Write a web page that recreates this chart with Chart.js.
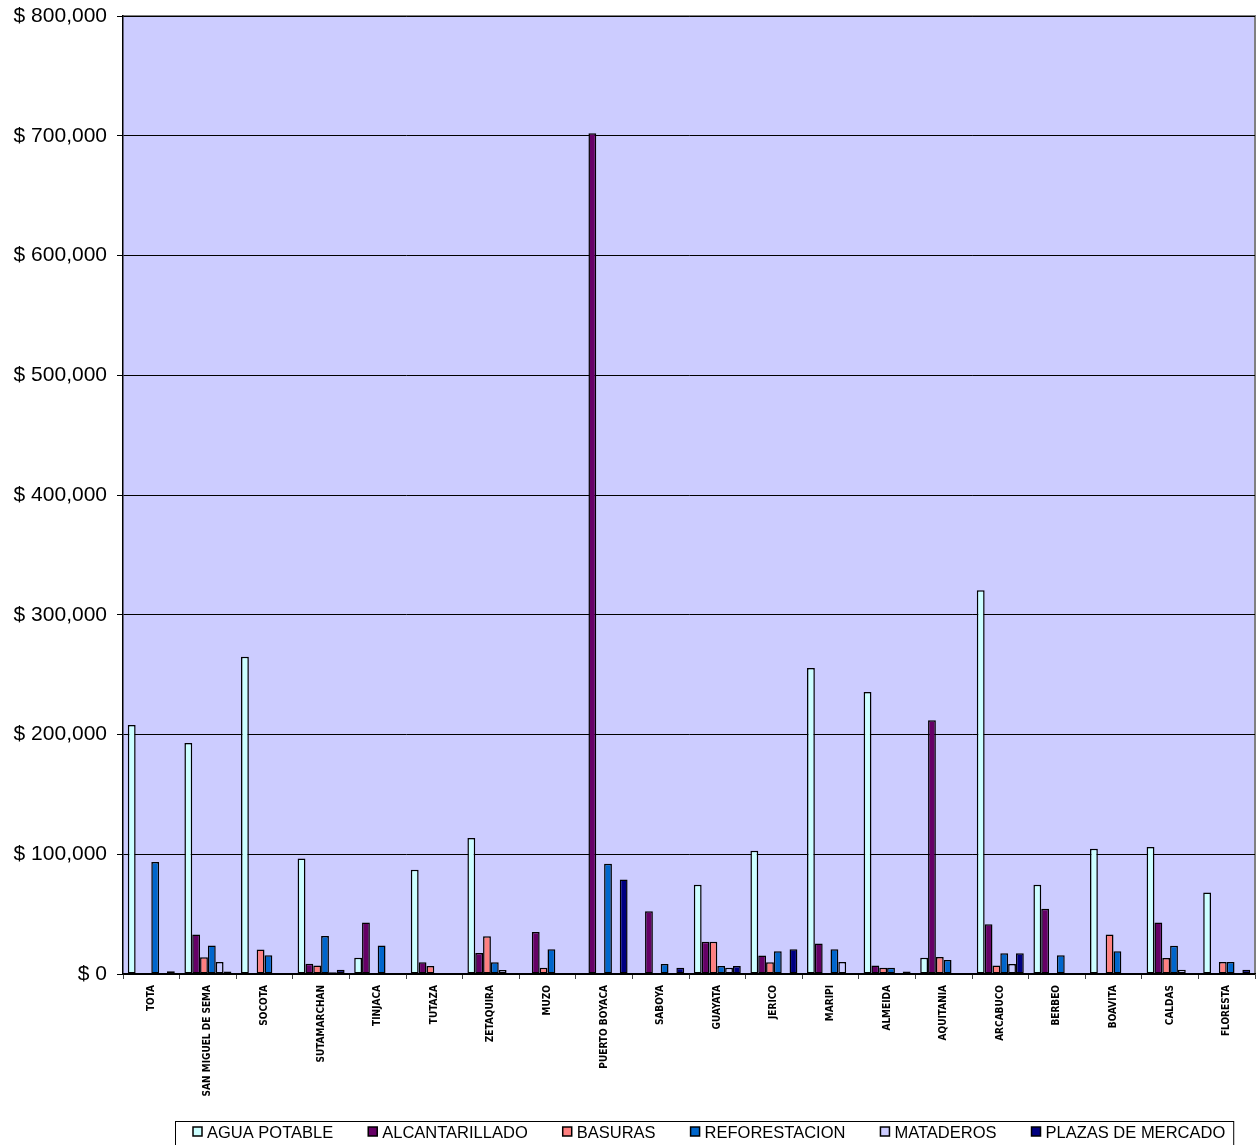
<!DOCTYPE html>
<html>
<head>
<meta charset="utf-8">
<script src="https://cdn.jsdelivr.net/npm/chart.js@4.4.1/dist/chart.umd.min.js"></script>
<style>
  html, body { margin: 0; padding: 0; background: #fff; }
  #wrap { width: 1257px; height: 1145px; }
</style>
</head>
<body>
<div id="wrap"><canvas id="chart" width="1257" height="1145"></canvas></div>
<script>
const municipios = ['TOTA', 'SAN MIGUEL DE SEMA', 'SOCOTA', 'SUTAMARCHAN', 'TINJACA', 'TUTAZA',
    'ZETAQUIRA', 'MUZO', 'PUERTO BOYACA', 'SABOYA', 'GUAYATA', 'JERICO', 'MARIPI', 'ALMEIDA',
    'AQUITANIA', 'ARCABUCO', 'BERBEO', 'BOAVITA', 'CALDAS', 'FLORESTA'];

const aguaPotable = [208000, 193000, 265000, 96500, 13500, 87000, 113500, null, null, null,
    74500, 103000, 255500, 235500, 13500, 320500, 74500, 104500, 106000, 68000];
const alcantarillado = [null, 33000, null, 8500, 43000, 9800, 17500, 35000, 702000, 52500,
    27000, 15500, 25500, 7000, 212000, 41500, 54500, null, 43000, null];
const basuras = [null, 14000, 20500, 7000, null, 6700, 31500, 5300, null, null,
    27000, 9800, null, 5300, 14200, 7000, null, 33000, 13400, 10000];
const reforestacion = [93500, 23700, 15700, 31700, 23700, null, 9800, 20600, 92000, 8400,
    6700, 19000, 20600, 5300, 11700, 17300, 15600, 19000, 23600, 10000];
const mataderos = [null, 10000, null, 1500, null, null, 3300, null, null, null,
    5300, null, 10000, null, null, 8400, null, null, 3600, null];
const plazasMercado = [2300, 2000, null, 3600, null, null, null, null, 79000, 5300,
    6700, 20600, null, 2000, null, 17300, null, null, null, 3600];

const yTicks = [0, 100000, 200000, 300000, 400000, 500000, 600000, 700000, 800000];

const series = [
    { label: 'AGUA POTABLE', data: aguaPotable, color: '#CCFFFF' },
    { label: 'ALCANTARILLADO', data: alcantarillado, color: '#660066' },
    { label: 'BASURAS', data: basuras, color: '#FF8080' },
    { label: 'REFORESTACION', data: reforestacion, color: '#0066CC' },
    { label: 'MATADEROS', data: mataderos, color: '#CCCCFF' },
    { label: 'PLAZAS DE MERCADO', data: plazasMercado, color: '#000080' }
];

// fondo del area de trazado
const plotAreaPlugin = {
    id: 'plotArea',
    beforeDraw(chart) {
        const { ctx, chartArea } = chart;
        ctx.save();
        ctx.fillStyle = '#CCCCFF';
        ctx.fillRect(chartArea.left, chartArea.top, chartArea.right - chartArea.left, chartArea.bottom - chartArea.top);
        ctx.strokeStyle = '#808080';
        ctx.lineWidth = 2;
        ctx.beginPath();
        ctx.moveTo(chartArea.left, chartArea.top);
        ctx.lineTo(chartArea.right, chartArea.top);
        ctx.lineTo(chartArea.right, chartArea.bottom);
        ctx.stroke();
        ctx.restore();
    }
};

// leyenda con marco, dibujada a mano
const legendPlugin = {
    id: 'boxLegend',
    afterDraw(chart) {
        const { ctx, chartArea } = chart;
        const datasets = chart.data.datasets;
        const boxSize = 9;
        const textGap = 14;
        const itemGap = 35;
        const y = 1132;

        ctx.save();
        ctx.font = '16.5px "Liberation Sans", Arial, sans-serif';
        ctx.textBaseline = 'middle';
        ctx.textAlign = 'left';

        const widths = datasets.map(ds => textGap + ctx.measureText(ds.label).width);
        const total = widths.reduce((a, b) => a + b, 0) + itemGap * (widths.length - 1);
        const center = (chartArea.left + chartArea.right) / 2 + 20;
        let x = Math.round(center - total / 2);
        const start = x;

        datasets.forEach((ds, i) => {
            ctx.fillStyle = ds.backgroundColor;
            ctx.fillRect(x, y - 5, boxSize, boxSize);
            ctx.strokeStyle = '#000';
            ctx.lineWidth = 1.5;
            ctx.strokeRect(x, y - 5, boxSize, boxSize);
            ctx.fillStyle = '#000';
            ctx.fillText(ds.label, x + textGap, y + 1);
            x += widths[i] + itemGap;
        });
        const end = x - itemGap;

        ctx.strokeStyle = '#000';
        ctx.lineWidth = 1;
        ctx.strokeRect(start - 17.5, 1121.5, end - start + 26, 40);
        ctx.restore();
    }
};

new Chart(document.getElementById('chart'), {
    type: 'bar',
    data: {
        labels: municipios,
        datasets: series.map(s => ({
            label: s.label,
            data: s.data,
            backgroundColor: s.color,
            borderColor: '#000',
            borderWidth: 1.5,
            borderSkipped: false,
            categoryPercentage: 0.83,
            barPercentage: 1.0
        }))
    },
    options: {
        responsive: false,
        animation: false,
        devicePixelRatio: 1,
        layout: { padding: { top: 16, right: 2, bottom: 49, left: 0 } },
        plugins: {
            legend: { display: false },
            tooltip: { enabled: false }
        },
        scales: {
            x: {
                grid: {
                    offset: true,
                    drawOnChartArea: false,
                    drawTicks: true,
                    tickLength: 5,
                    color: '#404040'
                },
                border: { color: '#000', width: 1.5 },
                ticks: {
                    autoSkip: false,
                    minRotation: 90,
                    maxRotation: 90,
                    padding: 6,
                    color: '#000',
                    font: { family: 'DejaVu Sans Condensed, DejaVu Sans, sans-serif', size: 10, weight: 'bold' }
                },
                afterFit(scale) { scale.height = 122; scale.paddingLeft = 0; scale.paddingRight = 0; }
            },
            y: {
                min: 0,
                max: 800000,
                afterBuildTicks(scale) { scale.ticks = yTicks.map(v => ({ value: v })); },
                grid: {
                    color: '#000',
                    lineWidth: 1,
                    tickLength: 6,
                    drawTicks: true
                },
                border: { color: '#000', width: 1.5 },
                ticks: {
                    padding: 10,
                    color: '#000',
                    font: { family: 'Liberation Sans, Arial, sans-serif', size: 21 },
                    callback: value => '$ ' + value.toLocaleString('en-US')
                },
                afterFit(scale) { scale.width = 123; scale.paddingTop = 0; scale.paddingBottom = 0; }
            }
        }
    },
    plugins: [plotAreaPlugin, legendPlugin]
});
</script>
</body>
</html>
